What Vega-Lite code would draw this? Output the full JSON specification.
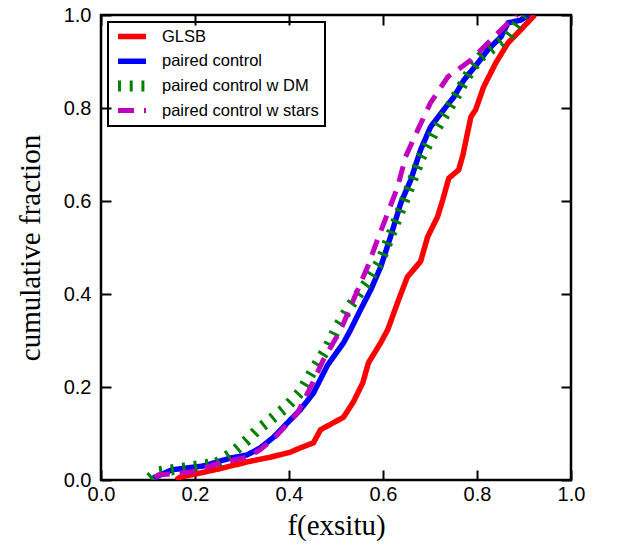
{
  "$schema": "https://vega.github.io/schema/vega-lite/v6.json",
  "width": 470,
  "height": 465,
  "autosize": {"type": "none"},
  "padding": {"left": 101, "top": 15, "right": 46, "bottom": 76},
  "background": "white",
  "config": {
    "view": {"stroke": "black", "strokeWidth": 2.5},
    "axis": {
      "domain": false,
      "grid": false,
      "labelFont": "Liberation Sans",
      "labelFontSize": 20,
      "labelColor": "black",
      "titleFont": "Liberation Serif",
      "titleFontSize": 29,
      "titleFontWeight": "normal",
      "titleColor": "black"
    },
    "legend": {
      "labelFont": "Liberation Sans",
      "labelFontSize": 16.5,
      "labelColor": "black"
    }
  },
  "data": {
    "values": [
      {"s": "GLSB", "x": 0.160, "y": 0.0},
      {"s": "GLSB", "x": 0.168, "y": 0.006},
      {"s": "GLSB", "x": 0.211, "y": 0.015},
      {"s": "GLSB", "x": 0.260, "y": 0.026},
      {"s": "GLSB", "x": 0.311, "y": 0.039},
      {"s": "GLSB", "x": 0.360, "y": 0.049},
      {"s": "GLSB", "x": 0.403, "y": 0.060},
      {"s": "GLSB", "x": 0.424, "y": 0.069},
      {"s": "GLSB", "x": 0.452, "y": 0.080},
      {"s": "GLSB", "x": 0.467, "y": 0.108},
      {"s": "GLSB", "x": 0.516, "y": 0.135},
      {"s": "GLSB", "x": 0.537, "y": 0.168},
      {"s": "GLSB", "x": 0.557, "y": 0.209},
      {"s": "GLSB", "x": 0.569, "y": 0.252},
      {"s": "GLSB", "x": 0.595, "y": 0.295},
      {"s": "GLSB", "x": 0.610, "y": 0.323},
      {"s": "GLSB", "x": 0.633, "y": 0.387},
      {"s": "GLSB", "x": 0.652, "y": 0.437},
      {"s": "GLSB", "x": 0.680, "y": 0.470},
      {"s": "GLSB", "x": 0.695, "y": 0.523},
      {"s": "GLSB", "x": 0.716, "y": 0.566},
      {"s": "GLSB", "x": 0.727, "y": 0.602},
      {"s": "GLSB", "x": 0.740, "y": 0.649},
      {"s": "GLSB", "x": 0.761, "y": 0.667},
      {"s": "GLSB", "x": 0.770, "y": 0.699},
      {"s": "GLSB", "x": 0.787, "y": 0.781},
      {"s": "GLSB", "x": 0.797, "y": 0.796},
      {"s": "GLSB", "x": 0.814, "y": 0.845},
      {"s": "GLSB", "x": 0.840, "y": 0.897},
      {"s": "GLSB", "x": 0.866, "y": 0.940},
      {"s": "GLSB", "x": 0.893, "y": 0.968},
      {"s": "GLSB", "x": 0.919, "y": 0.996},
      {"s": "GLSB", "x": 0.923, "y": 1.0},

      {"s": "paired control", "x": 0.111, "y": 0.004},
      {"s": "paired control", "x": 0.115, "y": 0.006},
      {"s": "paired control", "x": 0.151, "y": 0.022},
      {"s": "paired control", "x": 0.217, "y": 0.030},
      {"s": "paired control", "x": 0.275, "y": 0.047},
      {"s": "paired control", "x": 0.311, "y": 0.054},
      {"s": "paired control", "x": 0.339, "y": 0.069},
      {"s": "paired control", "x": 0.367, "y": 0.092},
      {"s": "paired control", "x": 0.388, "y": 0.114},
      {"s": "paired control", "x": 0.424, "y": 0.151},
      {"s": "paired control", "x": 0.452, "y": 0.187},
      {"s": "paired control", "x": 0.482, "y": 0.247},
      {"s": "paired control", "x": 0.516, "y": 0.295},
      {"s": "paired control", "x": 0.531, "y": 0.323},
      {"s": "paired control", "x": 0.552, "y": 0.366},
      {"s": "paired control", "x": 0.574, "y": 0.409},
      {"s": "paired control", "x": 0.595, "y": 0.458},
      {"s": "paired control", "x": 0.616, "y": 0.523},
      {"s": "paired control", "x": 0.638, "y": 0.596},
      {"s": "paired control", "x": 0.659, "y": 0.645},
      {"s": "paired control", "x": 0.680, "y": 0.710},
      {"s": "paired control", "x": 0.701, "y": 0.759},
      {"s": "paired control", "x": 0.729, "y": 0.796},
      {"s": "paired control", "x": 0.751, "y": 0.824},
      {"s": "paired control", "x": 0.772, "y": 0.860},
      {"s": "paired control", "x": 0.802, "y": 0.897},
      {"s": "paired control", "x": 0.823, "y": 0.925},
      {"s": "paired control", "x": 0.851, "y": 0.953},
      {"s": "paired control", "x": 0.866, "y": 0.983},
      {"s": "paired control", "x": 0.893, "y": 0.989},
      {"s": "paired control", "x": 0.910, "y": 1.0},

      {"s": "paired control w DM", "x": 0.104, "y": 0.004},
      {"s": "paired control w DM", "x": 0.119, "y": 0.017},
      {"s": "paired control w DM", "x": 0.190, "y": 0.028},
      {"s": "paired control w DM", "x": 0.247, "y": 0.037},
      {"s": "paired control w DM", "x": 0.281, "y": 0.060},
      {"s": "paired control w DM", "x": 0.311, "y": 0.086},
      {"s": "paired control w DM", "x": 0.333, "y": 0.108},
      {"s": "paired control w DM", "x": 0.360, "y": 0.129},
      {"s": "paired control w DM", "x": 0.392, "y": 0.155},
      {"s": "paired control w DM", "x": 0.424, "y": 0.189},
      {"s": "paired control w DM", "x": 0.452, "y": 0.237},
      {"s": "paired control w DM", "x": 0.482, "y": 0.286},
      {"s": "paired control w DM", "x": 0.503, "y": 0.329},
      {"s": "paired control w DM", "x": 0.531, "y": 0.376},
      {"s": "paired control w DM", "x": 0.567, "y": 0.426},
      {"s": "paired control w DM", "x": 0.595, "y": 0.473},
      {"s": "paired control w DM", "x": 0.623, "y": 0.544},
      {"s": "paired control w DM", "x": 0.652, "y": 0.617},
      {"s": "paired control w DM", "x": 0.680, "y": 0.692},
      {"s": "paired control w DM", "x": 0.708, "y": 0.746},
      {"s": "paired control w DM", "x": 0.738, "y": 0.796},
      {"s": "paired control w DM", "x": 0.759, "y": 0.832},
      {"s": "paired control w DM", "x": 0.787, "y": 0.882},
      {"s": "paired control w DM", "x": 0.808, "y": 0.910},
      {"s": "paired control w DM", "x": 0.836, "y": 0.931},
      {"s": "paired control w DM", "x": 0.866, "y": 0.953},
      {"s": "paired control w DM", "x": 0.887, "y": 0.983},
      {"s": "paired control w DM", "x": 0.898, "y": 1.0},

      {"s": "paired control w stars", "x": 0.115, "y": 0.004},
      {"s": "paired control w stars", "x": 0.122, "y": 0.011},
      {"s": "paired control w stars", "x": 0.190, "y": 0.017},
      {"s": "paired control w stars", "x": 0.254, "y": 0.037},
      {"s": "paired control w stars", "x": 0.311, "y": 0.049},
      {"s": "paired control w stars", "x": 0.339, "y": 0.065},
      {"s": "paired control w stars", "x": 0.375, "y": 0.097},
      {"s": "paired control w stars", "x": 0.418, "y": 0.144},
      {"s": "paired control w stars", "x": 0.446, "y": 0.200},
      {"s": "paired control w stars", "x": 0.473, "y": 0.258},
      {"s": "paired control w stars", "x": 0.510, "y": 0.323},
      {"s": "paired control w stars", "x": 0.537, "y": 0.387},
      {"s": "paired control w stars", "x": 0.567, "y": 0.458},
      {"s": "paired control w stars", "x": 0.588, "y": 0.516},
      {"s": "paired control w stars", "x": 0.610, "y": 0.574},
      {"s": "paired control w stars", "x": 0.631, "y": 0.630},
      {"s": "paired control w stars", "x": 0.648, "y": 0.695},
      {"s": "paired control w stars", "x": 0.674, "y": 0.753},
      {"s": "paired control w stars", "x": 0.701, "y": 0.811},
      {"s": "paired control w stars", "x": 0.738, "y": 0.867},
      {"s": "paired control w stars", "x": 0.787, "y": 0.903},
      {"s": "paired control w stars", "x": 0.836, "y": 0.953},
      {"s": "paired control w stars", "x": 0.878, "y": 0.994},
      {"s": "paired control w stars", "x": 0.885, "y": 1.0}
    ]
  },
  "layer": [
    {
      "mark": {"type": "line", "clip": true, "strokeCap": "butt"},
      "encoding": {
        "x": {
          "field": "x", "type": "quantitative",
          "scale": {"domain": [0, 1], "nice": false, "zero": false},
          "axis": {"orient": "bottom", "values": [0, 0.2, 0.4, 0.6, 0.8, 1.0], "format": ".1f", "title": "f(exsitu)",
                   "ticks": true, "tickSize": 10, "tickColor": "black", "tickWidth": 2, "offset": -10,
                   "labelPadding": 4, "titlePadding": 7, "labelFlush": false}
        },
        "y": {
          "field": "y", "type": "quantitative",
          "scale": {"domain": [0, 1], "nice": false, "zero": false},
          "axis": {"orient": "left", "values": [0, 0.2, 0.4, 0.6, 0.8, 1.0], "format": ".1f", "title": "cumulative fraction",
                   "ticks": true, "tickSize": 10, "tickColor": "black", "tickWidth": 2, "offset": -10,
                   "labelPadding": 10, "titlePadding": 18, "labelFlush": false}
        },
        "color": {
          "field": "s", "type": "nominal",
          "scale": {
            "domain": ["GLSB", "paired control", "paired control w DM", "paired control w stars"],
            "range": ["#ff0000", "#0000ff", "#008000", "#bf00bf"]
          },
          "legend": {
            "title": null,
            "orient": "top-left",
            "offset": 7,
            "padding": 6,
            "strokeColor": "black",
            "symbolType": "M-1.5,0H7.83",
            "symbolSize": 36,
            "symbolStrokeWidth": 5.5,
            "labelOffset": 31,
            "rowPadding": 7.7,
            "clipHeight": 17,
            "encode": {
              "legend": {"update": {"strokeWidth": {"value": 2}}},
              "symbols": {"update": {"strokeWidth": [{"test": "datum.value === 'paired control w DM'", "value": 11}, {"value": 5.5}]}}
            }
          }
        },
        "strokeDash": {
          "field": "s", "type": "nominal",
          "scale": {
            "domain": ["GLSB", "paired control", "paired control w DM", "paired control w stars"],
            "range": [[1, 0], [1, 0], [3, 8.7], [16, 10]]
          }
        },
        "strokeWidth": {
          "field": "s", "type": "nominal",
          "scale": {
            "type": "ordinal",
            "domain": ["GLSB", "paired control", "paired control w DM", "paired control w stars"],
            "range": [5.5, 5.5, 11, 5]
          },
          "legend": null
        }
      }
    },
    {
      "mark": {"type": "point", "opacity": 0},
      "encoding": {
        "x": {
          "field": "x", "type": "quantitative",
          "axis": {"orient": "top", "values": [0, 0.2, 0.4, 0.6, 0.8, 1.0], "labels": false, "title": null,
                   "ticks": true, "tickSize": 10, "tickColor": "black", "tickWidth": 2, "offset": -10}
        },
        "y": {
          "field": "y", "type": "quantitative",
          "axis": {"orient": "right", "values": [0, 0.2, 0.4, 0.6, 0.8, 1.0], "labels": false, "title": null,
                   "ticks": true, "tickSize": 10, "tickColor": "black", "tickWidth": 2, "offset": -10}
        }
      }
    }
  ],
  "resolve": {"axis": {"x": "independent", "y": "independent"}}
}
